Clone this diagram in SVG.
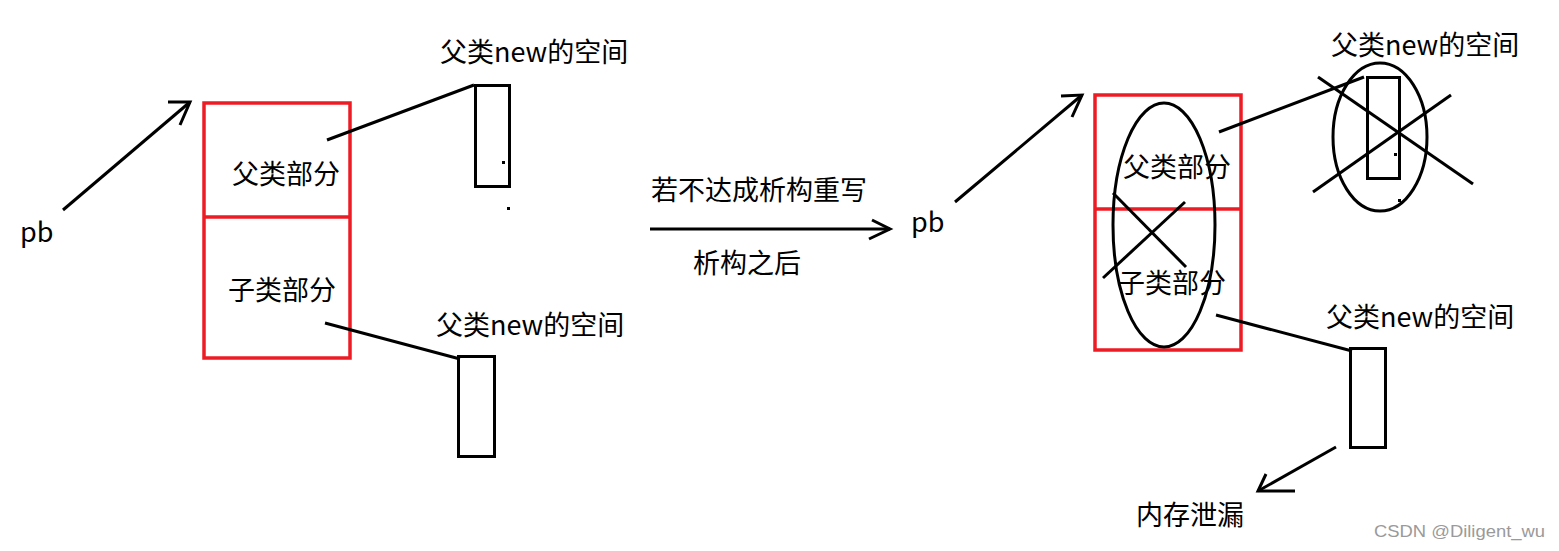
<svg xmlns="http://www.w3.org/2000/svg" width="1559" height="551" viewBox="0 0 1559 551">
<style>
.t{font-family:"Noto Sans CJK SC","Microsoft YaHei",sans-serif;font-size:27px;fill:#000}
.wm{font-family:"Liberation Sans",sans-serif;font-size:17px;fill:#9a9a9a}
.k{stroke:#000;stroke-width:3;fill:none;stroke-linecap:butt}
.r{stroke:#ED1C24;stroke-width:3.5;fill:none}
</style>
<rect width="1559" height="551" fill="#fff"/>
<g id="left-pb"><text class="t" x="20" y="242">pb</text></g>
<g id="left-object">
<rect class="r" x="204" y="103" width="146" height="255"/>
<line class="r" x1="204" y1="217" x2="350" y2="217"/>
<text class="t" x="232" y="184">父类部分</text>
<text class="t" x="228" y="300">子类部分</text>
</g>
<g id="left-space1">
<rect class="k" x="475.5" y="85.5" width="34" height="101"/>
<rect x="502" y="161" width="3" height="3" fill="#000"/>
<rect x="507" y="207" width="3" height="3" fill="#000"/>
<text class="t" x="440" y="62">父类new的空间</text>
</g>
<g id="left-space2">
<rect class="k" x="458.5" y="356.5" width="36" height="100"/>
<text class="t" x="436" y="335">父类new的空间</text>
</g>
<g id="middle-label">
<text class="t" x="651" y="200">若不达成析构重写</text>
<text class="t" x="693" y="273">析构之后</text>
</g>
<g id="right-pb"><text class="t" x="911" y="232">pb</text></g>
<g id="right-object">
<rect class="r" x="1095" y="95" width="146" height="255"/>
<line class="r" x1="1095" y1="209" x2="1241" y2="209"/>
<text class="t" x="1123" y="177">父类部分</text>
<text class="t" x="1118" y="293">子类部分</text>
<ellipse class="k" cx="1164" cy="225" rx="51" ry="122"/>
<line class="k" x1="1113" y1="193" x2="1186" y2="267"/>
<line class="k" x1="1185" y1="202" x2="1103" y2="278"/>
</g>
<g id="right-space1">
<rect class="k" x="1367.5" y="77.5" width="32" height="101"/>
<ellipse class="k" cx="1380" cy="137" rx="47" ry="74"/>
<line class="k" x1="1318" y1="77" x2="1473" y2="184"/>
<line class="k" x1="1451" y1="95" x2="1313" y2="192"/>
<rect x="1394" y="153" width="3" height="3" fill="#000"/>
<rect x="1398" y="199" width="3" height="3" fill="#000"/>
<text class="t" x="1331" y="55">父类new的空间</text>
</g>
<g id="right-space2">
<rect class="k" x="1350.5" y="348.5" width="35" height="99"/>
<text class="t" x="1326" y="327">父类new的空间</text>
</g>
<g id="leak"><text class="t" x="1136" y="525">内存泄漏</text></g>
<g id="connectors">
<polyline class="k" points="63,210 190,102"/>
<polyline class="k" points="168,102 190,102 180,125"/>
<line class="k" x1="327" y1="140" x2="474" y2="85"/>
<line class="k" x1="325" y1="323" x2="460" y2="359"/>
<line class="k" x1="650" y1="229" x2="890" y2="229"/>
<polyline class="k" points="872,220 890,229 869,239"/>
<line class="k" x1="955" y1="202" x2="1082" y2="95"/>
<polyline class="k" points="1061,96 1082,95 1072,117"/>
<line class="k" x1="1219" y1="132" x2="1364" y2="77"/>
<line class="k" x1="1216" y1="315" x2="1352" y2="351"/>
<line class="k" x1="1336" y1="447" x2="1258" y2="491"/>
<polyline class="k" points="1266,474 1258,491 1295,491"/>
</g>
<text class="wm" x="1374" y="537" textLength="171" lengthAdjust="spacingAndGlyphs">CSDN @Diligent_wu</text>
</svg>
